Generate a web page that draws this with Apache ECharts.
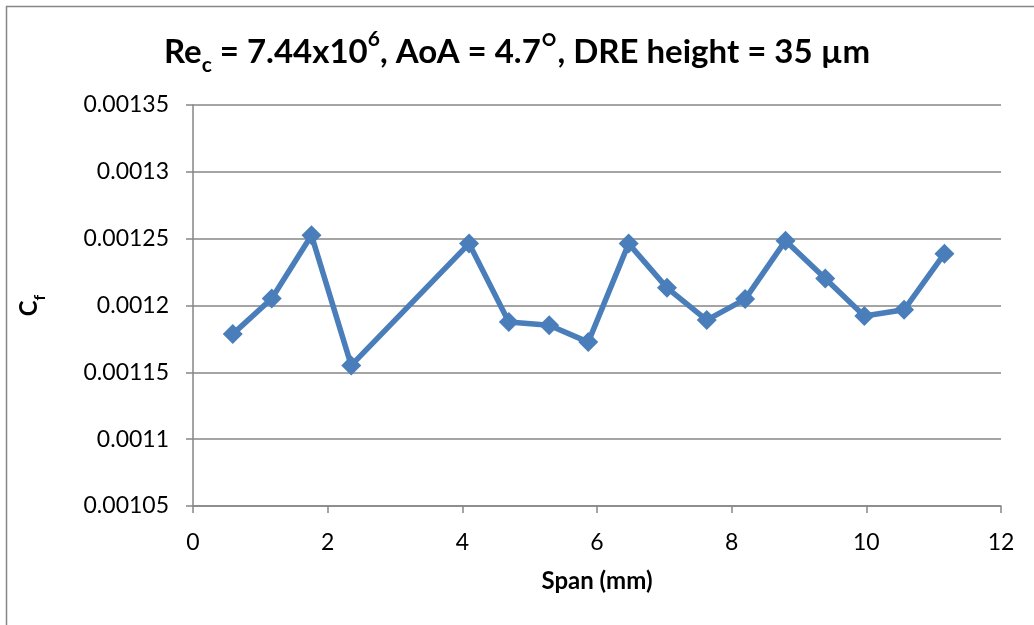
<!DOCTYPE html>
<html>
<head>
<meta charset="utf-8">
<script src="https://cdn.jsdelivr.net/npm/echarts@6/dist/echarts.min.js"></script>
<style>
  html, body { margin: 0; padding: 0; background: #fff; }
  #chart { width: 1034px; height: 625px; }
</style>
</head>
<body>
<div id="chart"></div>
<script>
// Data
const spanMm = [0.59, 1.17, 1.76, 2.35, 4.10, 4.69, 5.29, 5.87, 6.47, 7.04, 7.63, 8.20, 8.80, 9.39, 9.97, 10.56, 11.16];
const cfValues = [0.0011786, 0.0012052, 0.0012525, 0.0011552, 0.0012463, 0.0011876, 0.0011853, 0.0011726, 0.0012463, 0.0012132, 0.0011891, 0.0012048, 0.0012485, 0.0012202, 0.0011921, 0.0011968, 0.0012388];
const xTicks = [0, 2, 4, 6, 8, 10, 12];
const yTicks = [0.00105, 0.0011, 0.00115, 0.0012, 0.00125, 0.0013, 0.00135];

const FONT = 'Lato, "Open Sans", sans-serif';
const GRAY = '#868686';
const BLUE = '#4a7ebb';

const points = spanMm.map((x, i) => [x, cfValues[i]]);

const chart = echarts.init(document.getElementById('chart'));
chart.setOption({
  backgroundColor: '#fff',
  animation: false,
  title: {
    text: '{b|Re}{sub|c}{b| = 7.44x10}{sup|6}{b|, AoA = 4.7}{deg|°}{b|, DRE height = 35 µm}',
    left: 'center',
    top: 24,
    padding: [5, 5, 5, 20],
    textStyle: {
      rich: {
        b: { fontFamily: FONT, fontWeight: 'bold', fontSize: 33, color: '#000', verticalAlign: 'bottom', lineHeight: 40 },
        sub: { fontFamily: FONT, fontWeight: 'bold', fontSize: 21, color: '#000', verticalAlign: 'bottom', lineHeight: 30, padding: [0, 0, -7, 0] },
        sup: { fontFamily: FONT, fontWeight: 'bold', fontSize: 21, color: '#000', verticalAlign: 'top', lineHeight: 40, padding: [0, 0, 9, 0] },
        deg: { fontFamily: FONT, fontWeight: 'normal', fontSize: 40, color: '#000', verticalAlign: 'bottom', lineHeight: 40 }
      }
    }
  },
  graphic: [{
    type: 'rect',
    shape: { x: 6.5, y: 6.5, width: 1100, height: 700 },
    style: { fill: 'none', stroke: GRAY, lineWidth: 1.5 },
    silent: true,
    z: -1
  }],
  grid: { left: 193, right: 33, top: 105, bottom: 119, containLabel: false },
  xAxis: {
    type: 'value',
    min: xTicks[0],
    max: xTicks[xTicks.length - 1],
    interval: 2,
    name: 'Span (mm)',
    nameLocation: 'middle',
    nameGap: 63,
    nameTextStyle: { fontFamily: FONT, fontWeight: 'bold', fontSize: 24, color: '#000' },
    axisLine: { show: true, lineStyle: { color: GRAY, width: 1.5 } },
    axisTick: { show: true, length: 7, lineStyle: { color: GRAY, width: 1.5 } },
    axisLabel: { fontFamily: FONT, fontSize: 23, color: '#000', margin: 25 },
    splitLine: { show: false }
  },
  yAxis: {
    type: 'value',
    min: yTicks[0],
    max: yTicks[yTicks.length - 1],
    interval: 0.00005,
    name: '{b|C}{sub|f}',
    nameLocation: 'middle',
    nameGap: 152,
    nameRotate: 90,
    nameTextStyle: {
      rich: {
        b: { fontFamily: FONT, fontWeight: 'bold', fontSize: 24, color: '#000' },
        sub: { fontFamily: FONT, fontWeight: 'bold', fontSize: 16, color: '#000', verticalAlign: 'bottom', padding: [0, 0, -7, 0] }
      }
    },
    axisLine: { show: true, lineStyle: { color: GRAY, width: 1.5 } },
    axisTick: { show: true, length: 7, lineStyle: { color: GRAY, width: 1.5 } },
    axisLabel: {
      fontFamily: FONT, fontSize: 23, color: '#000', margin: 24,
      formatter: v => String(parseFloat(Number(v).toFixed(6)))
    },
    splitLine: { show: true, lineStyle: { color: GRAY, width: 1.5 } }
  },
  series: [{
    type: 'line',
    data: points,
    symbol: 'diamond',
    symbolSize: 20,
    lineStyle: { color: BLUE, width: 5.5 },
    itemStyle: { color: BLUE },
    z: 3
  }]
});
</script>
</body>
</html>
